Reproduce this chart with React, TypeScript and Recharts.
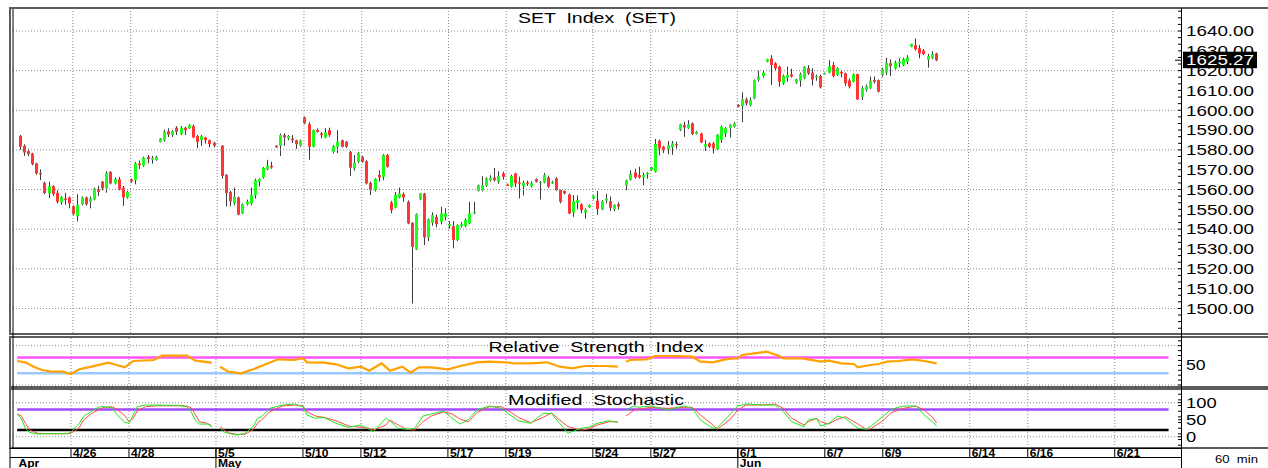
import React from "react";
import { Bar, ComposedChart, Line, ReferenceLine, XAxis, YAxis } from "recharts";

const FONT = '"Liberation Sans", Arial, sans-serif';
const SLOT_COUNT = 283; // 7 hourly bars per trading day
const SLOTS_PER_DAY = 7;

const DAY_LABELS = [
  "4/22", "4/23", "4/26", "4/27", "4/28", "4/29", "4/30", "5/5", "5/6", "5/7",
  "5/10", "5/11", "5/12", "5/13", "5/14", "5/17", "5/18", "5/19", "5/20", "5/21",
  "5/24", "5/25", "5/27", "5/28", "5/31", "6/1", "6/2", "6/4", "6/7", "6/8",
  "6/9", "6/10", "6/11", "6/14", "6/15", "6/16", "6/17", "6/18", "6/21", "6/22", "6/23",
];
const SHOWN_DATES = ["4/26", "4/28", "5/5", "5/10", "5/12", "5/17", "5/19", "5/24", "5/27", "6/1", "6/7", "6/9", "6/14", "6/16", "6/21"];
const MONTH_DAYS = ["4/22", "5/5", "6/1"];
const MONTH_NAMES = ["Apr", "May", "Jun"];

// [open, high, low, close] per hourly slot, null = no bar
const CANDLES: ([number, number, number, number] | null)[] = [
  null,
  [1587.1, 1587.5, 1580, 1581.6], [1582.1, 1582.8, 1577, 1578.7], [1579.4, 1580.6, 1576.8, 1577.9],
  [1578.2, 1578.5, 1572.2, 1572.8], [1573.2, 1573.5, 1567.5, 1568.1], [1568.3, 1570.2, 1564.8, 1567.9],
  [1563.4, 1564, 1557.6, 1558.3], [1558, 1564, 1555.7, 1561.7], [1561.7, 1562.2, 1556.8, 1557.7],
  [1558.3, 1559.6, 1552.9, 1553.8], [1553.5, 1556.8, 1552.3, 1556.3], [1555.5, 1558.3, 1552.3, 1554.8],
  [1556, 1556.5, 1550.5, 1553],
  [1551.6, 1552, 1547, 1547.6], [1546.6, 1557.6, 1543.9, 1552.1], [1552.6, 1556.5, 1552, 1556],
  [1556, 1556.5, 1551.8, 1552.6], [1553.8, 1556.5, 1550.5, 1555.5], [1555, 1561, 1554.5, 1560.6],
  [1560, 1562, 1556.8, 1558.8],
  [1564, 1564.3, 1559.6, 1560.6], [1560.6, 1569.2, 1558.4, 1568.4], [1568.9, 1569.3, 1562.6, 1563.1],
  [1563.1, 1566, 1562.6, 1565.3], [1565.1, 1566.4, 1559.6, 1560], [1560.9, 1561.8, 1551.8, 1556],
  [1556, 1559.3, 1555.4, 1558.8],
  [1565.1, 1565.5, 1563.5, 1564.1], [1564.7, 1573.9, 1562.6, 1573.2], [1573.2, 1574.6, 1570.4, 1572.3],
  [1572, 1576.6, 1571.5, 1576], [1576.5, 1577.4, 1573.2, 1575.4], [1575, 1577, 1573, 1575.9],
  [1574.9, 1577.1, 1574.5, 1576.5],
  [1584, 1586, 1583.8, 1585.7], [1584.9, 1590.1, 1584.1, 1589.2], [1589.5, 1590.9, 1586.5, 1587.8],
  [1587.5, 1590, 1586.5, 1589.5], [1591.2, 1592, 1587.5, 1589.2], [1588, 1592, 1587.5, 1591.2],
  [1591.2, 1591.7, 1587.5, 1590],
  [1590.9, 1593, 1590.6, 1592.5], [1592, 1592.8, 1585.9, 1586.3], [1587, 1587.5, 1580.8, 1584.1],
  [1585, 1587.5, 1582, 1587], [1586.3, 1586.6, 1583.2, 1584.9], [1584.9, 1585.2, 1581.3, 1582.9],
  [1583.6, 1584.1, 1581.3, 1582.1],
  null,
  [1582.1, 1582.4, 1565.5, 1566.9], [1567.3, 1567.8, 1551.5, 1558.3], [1558.8, 1559.3, 1551.5, 1554.1],
  [1553, 1561, 1552, 1556.3], [1556, 1556.5, 1547, 1547.4], [1547.9, 1553, 1547.6, 1552.6],
  [1552.6, 1554.9, 1552, 1553.8], [1553, 1561, 1552, 1557.2], [1557.2, 1565.5, 1555.5, 1564.7],
  [1564, 1565.6, 1561.5, 1565.3], [1566.1, 1571.4, 1565.5, 1570.9], [1570.3, 1575, 1569.7, 1572],
  [1572, 1574, 1570.5, 1571.2],
  [1582.1, 1582.3, 1581, 1581.3], [1582.1, 1588.2, 1577, 1587.5], [1587.5, 1588.4, 1582.1, 1586.3],
  [1585.8, 1587.5, 1584.9, 1587], [1585.7, 1587.5, 1583.5, 1584.9], [1584.9, 1585.2, 1580.5, 1582.9],
  [1582.1, 1585.2, 1581.6, 1584.9],
  [1596.4, 1596.9, 1593, 1593.4], [1593, 1594, 1575, 1581.6], [1581.6, 1590.3, 1581.3, 1590],
  [1590, 1590.9, 1588.8, 1589.1], [1588.3, 1589, 1585.9, 1587.5], [1586.3, 1590.9, 1585.9, 1588.8],
  [1590, 1591.2, 1586.6, 1587.5],
  [1579, 1582.4, 1578.3, 1581.9], [1581.6, 1590, 1578.4, 1584.1], [1584.9, 1585.2, 1581.2, 1581.6],
  [1584.1, 1584.5, 1581, 1581.6], [1579, 1579.5, 1566.9, 1571], [1570.7, 1577.4, 1569.5, 1573.5],
  [1574, 1579, 1573.3, 1578.5],
  [1576.5, 1577, 1573.5, 1574], [1574.3, 1574.8, 1562.6, 1563.1], [1563.4, 1564, 1557.2, 1559.7],
  [1559.7, 1565.7, 1559, 1565.3], [1567.3, 1569.7, 1564, 1566.1], [1566.4, 1577.9, 1564.7, 1577.4],
  [1577.4, 1577.9, 1571, 1571.5],
  [1553.5, 1554.3, 1548, 1549.6], [1550.9, 1558.8, 1550.5, 1557.2], [1556, 1561, 1555.5, 1558],
  [1557.7, 1558.5, 1553.8, 1556], [1553.8, 1554.5, 1542.5, 1542.9], [1543.2, 1543.5, 1502.5, 1531.1],
  [1529.8, 1548, 1529.5, 1547.6],
  [1555, 1558.3, 1554.6, 1558], [1558, 1558.3, 1532, 1535.8], [1535.8, 1545.5, 1534, 1545],
  [1543.2, 1548.5, 1541.7, 1547.1], [1546.2, 1547.5, 1541, 1542.5], [1543.7, 1551.3, 1542.4, 1547.9],
  [1546.2, 1550.5, 1544.4, 1547.9],
  [1541.5, 1544.1, 1540.3, 1542.5], [1541.5, 1544.1, 1530.4, 1534.5], [1534.5, 1542.5, 1534, 1542],
  [1541.6, 1543.7, 1540.9, 1542.5], [1541.6, 1545.5, 1540.9, 1544.7], [1542.9, 1553.8, 1542.5, 1548],
  [1547.9, 1553.8, 1547.5, 1548.7],
  [1559.3, 1562.5, 1559, 1562.2], [1559.6, 1566.7, 1559, 1562.2], [1561.9, 1566.2, 1561.4, 1565.6],
  [1564.7, 1567.2, 1564, 1566], [1566, 1570.9, 1564, 1564.7], [1563.9, 1569.2, 1563, 1566.8],
  [1568.1, 1569, 1565, 1566.4],
  [1562.5, 1563, 1562, 1562.2], [1561.4, 1567.5, 1561, 1566.8], [1568.1, 1568.4, 1561.2, 1563.1],
  [1563.6, 1566.5, 1555.5, 1563.1], [1561.7, 1564.5, 1557, 1563.4], [1563.6, 1564.5, 1561.8, 1562.9],
  [1561.7, 1564.1, 1561, 1563.1],
  [1565.3, 1565.7, 1563.5, 1563.9], [1563.2, 1564.3, 1555, 1563.9], [1563.6, 1568.4, 1563.1, 1567.3],
  [1566.1, 1567, 1560.8, 1561.4], [1563.1, 1564.5, 1562.8, 1563.9], [1565.6, 1566.2, 1559.3, 1559.7],
  [1559.7, 1560, 1553, 1553.8],
  [1559.3, 1559.5, 1557.6, 1558], [1557.5, 1558, 1547.6, 1547.9], [1548.4, 1557.2, 1546.2, 1554.1],
  [1553.3, 1557, 1550, 1554.7], [1552.6, 1553, 1548, 1549.6], [1548.4, 1550.5, 1545.3, 1549.6],
  [1551.1, 1552.5, 1550.7, 1552.1],
  [1555.5, 1557.2, 1555, 1556.9], [1554.4, 1559.3, 1547.2, 1550.2], [1550, 1554.6, 1549.6, 1554.1],
  [1554.4, 1557.9, 1553, 1555.5], [1554.1, 1556.5, 1549.2, 1550.8], [1550.1, 1552.6, 1549.2, 1552.3],
  [1552.6, 1553.5, 1550, 1551.5],
  null,
  [1562.2, 1565, 1559.7, 1564.7], [1564.8, 1569.7, 1564.5, 1568.1], [1568.6, 1570.5, 1565.5, 1566.1],
  [1567.3, 1571.5, 1565.5, 1566.1], [1566.1, 1568.5, 1562.2, 1567.3], [1567.8, 1568.8, 1565.5, 1568.4],
  [1569.8, 1571.6, 1569.4, 1571.2], [1569, 1585.5, 1568.6, 1583], [1584.6, 1585.2, 1577.2, 1580.8],
  [1581.6, 1582, 1578.4, 1579.9], [1580.4, 1584.5, 1577.8, 1582.4], [1581.3, 1584.5, 1577.5, 1583.3],
  [1583, 1584.1, 1580.7, 1582.4],
  [1590, 1593.2, 1589.5, 1592.9], [1592.5, 1594.2, 1586.6, 1591.4], [1590.9, 1595, 1590.5, 1593],
  [1593.4, 1593.8, 1587.5, 1588], [1588, 1589.5, 1587.7, 1589.1], [1588.3, 1588.7, 1583.4, 1583.8],
  [1581.6, 1585, 1579.5, 1582.9],
  [1583.3, 1583.8, 1581, 1581.6], [1583.3, 1584.1, 1578.2, 1580.8], [1580.4, 1588, 1580, 1587.5],
  [1585, 1592.2, 1583.6, 1591.7], [1588.3, 1591.5, 1586.5, 1590.9], [1590.9, 1593, 1586.3, 1592.5],
  [1591.7, 1594, 1591.2, 1593.4],
  [1602.6, 1603, 1601.5, 1601.8], [1602.1, 1609, 1594, 1605.5], [1605.5, 1606.5, 1602.5, 1603.5],
  [1602.6, 1606.5, 1602, 1605.2], [1606, 1615.6, 1605.6, 1615.3], [1615.3, 1620, 1614.4, 1616.9],
  [1617.3, 1620, 1616.5, 1619],
  [1624.5, 1626, 1624.2, 1625.7], [1626.2, 1627.8, 1612.8, 1622.8], [1623.7, 1624.3, 1620.2, 1621.2],
  [1622, 1622.5, 1611.9, 1614.4], [1613.6, 1618, 1612.8, 1617.3], [1616.6, 1622, 1614.4, 1617.8],
  [1618.1, 1621, 1616.5, 1617.1],
  [1613.9, 1616, 1613.3, 1615.6], [1614.9, 1619, 1611.9, 1618.3], [1616.1, 1622.3, 1615.6, 1622],
  [1621.2, 1622.8, 1617.8, 1618.6], [1619, 1621.2, 1612.5, 1615.6], [1616.6, 1618, 1614.9, 1617.3],
  [1617.3, 1618, 1611, 1611.6],
  [1618.3, 1619, 1618, 1618.7], [1619, 1625.3, 1618.6, 1622.3], [1622.8, 1624.4, 1616.6, 1617.3],
  [1617.8, 1621.7, 1617.3, 1621.2], [1619.4, 1620.2, 1616.6, 1618.6], [1618.6, 1619, 1612.2, 1613.6],
  [1615, 1616, 1611, 1611.9],
  [1614.4, 1618.6, 1614, 1618.1], [1618.3, 1618.5, 1605.2, 1605.5], [1606.8, 1612.3, 1605.2, 1611.1],
  [1610.2, 1613, 1609.4, 1612.2], [1611.1, 1617, 1610.7, 1614.9], [1615.2, 1617, 1613.6, 1614.4],
  [1615.2, 1615.5, 1609, 1609.4],
  [1617.8, 1621.5, 1616.9, 1620.6], [1619, 1626.5, 1617.8, 1624], [1623.7, 1625.7, 1617.3, 1622.3],
  [1621.2, 1625, 1620.6, 1624], [1623.7, 1626.2, 1621.7, 1624.5], [1622.8, 1626.5, 1622.3, 1625.7],
  [1624.5, 1627.8, 1623.3, 1626.7],
  [1632.1, 1633.6, 1631.8, 1633.4], [1632.9, 1636.2, 1630.1, 1630.8], [1631.3, 1632.9, 1626.2, 1628.7],
  [1630.1, 1630.8, 1627.9, 1628.4], [1625.4, 1628.5, 1621.5, 1627.4], [1626.2, 1629.8, 1625.7, 1628.4],
  [1628.7, 1629, 1624.8, 1625.27],
];
const LAST_PRICE = 1625.27;

// [slot, value]
const RSI_POINTS: [number, number][] = [
  [1, 61], [3, 57.7], [5, 46.6], [7, 38.2], [9, 34.9], [12, 34], [14, 28], [16, 40], [19, 46.6],
  [23, 56.7], [25, 50.9], [27, 45], [29, 61], [34, 63.6], [36, 74.6], [42, 74.6], [44, 61.8], [48, 56.7],
  [50, 46.6], [52, 33.8], [55, 29.8], [58, 40], [61, 52.7], [64, 65.3], [68, 63.6], [70, 68], [71, 57.7],
  [75, 56.7], [78, 52.7], [81, 42.5], [84, 46.6], [86, 36.4], [87, 42.5], [89, 55.2], [91, 36.4],
  [94, 46.6], [96, 31.3], [98, 45], [101, 45], [105, 40], [108, 48.4], [112, 57.7], [115, 59.3],
  [119, 57.7], [121, 55.2], [125, 55.2], [129, 57.7], [132, 46.6], [135, 42.5], [138, 48.4], [143, 48.4],
  [146, 46.6],
  [148, 59.3], [149, 63.6], [153, 65.3], [155, 73.8], [161, 73.8], [164, 72], [166, 59.3], [169, 57.7],
  [172, 65.3], [175, 68], [176, 76.3], [179, 80.6], [182, 84.7], [185, 73.8], [186, 68], [190, 68],
  [192, 65.3], [195, 59.3], [197, 61.8], [200, 55.2], [203, 53.4], [204, 45], [207, 50.9], [209, 53.4],
  [211, 59.3], [214, 61], [217, 65.3], [220, 61], [223, 55.2],
];
const STOCH_K: [number, number][] = [
  [1, 65.9], [2, 54], [3, 24.7], [4, 12.9], [6, 7.9], [8, 8.8], [11, 8.8], [13, 8.8], [14, 13], [16, 39.4],
  [17, 58.8], [19, 75.6], [21, 88.2], [22, 88.2], [24, 85.3], [25, 65.9], [27, 42.4], [28, 39.4], [29, 63.8],
  [30, 88.2], [32, 93.2], [35, 93], [40, 92], [42, 88.2], [43, 73.5], [44, 49], [45, 37.4], [47, 37], [48, 29.4],
  [50, 24.7], [51, 13], [52, 10], [54, 5], [56, 10], [58, 29.4], [59, 54], [60, 58.8], [62, 83.5], [65, 93.2],
  [68, 96.2], [70, 88.2], [71, 63.8], [73, 54], [75, 57], [78, 39.4], [81, 27.6], [84, 34.4], [86, 21.8],
  [87, 14.7], [90, 54], [91, 47], [93, 24.7], [95, 21.8], [97, 24.7], [99, 60.9], [101, 66.8], [104, 75.6],
  [106, 54], [108, 37.4], [110, 51.2], [112, 78.5], [115, 90.3], [118, 83.5], [120, 63.8], [122, 47],
  [125, 39.4], [128, 68.8], [130, 68], [132, 39.4], [134, 10], [137, 24.7], [139, 27.6], [141, 39.4],
  [144, 47], [146, 42],
  [148, 78.5], [150, 90.3], [151, 86.5], [154, 90.3], [158, 78.5], [162, 90.3], [164, 83.5], [166, 49],
  [169, 24.7], [170, 26.5], [173, 63.8], [175, 90.3], [177, 96.2], [181, 93.2], [184, 93.2], [186, 73.5],
  [188, 44.1], [191, 29.4], [192, 49], [194, 54], [195, 31.5], [197, 39.4], [199, 60.9], [201, 54],
  [204, 24.7], [206, 21.8], [207, 29.4], [210, 58.8], [212, 80.6], [215, 90.3], [218, 90.3], [220, 63.8],
  [222, 44.1], [223, 31.5],
];
const STOCH_D: [number, number][] = [
  [1, 65.9], [2, 61.8], [3, 39.4], [4, 19.7], [6, 10], [8, 8.8], [13, 8.8], [14, 10], [16, 26.5], [17, 49],
  [19, 68.8], [21, 81.5], [22, 86.5], [24, 88.2], [25, 81.5], [27, 61.8], [28, 44.1], [29, 54], [30, 75.6],
  [32, 88.2], [35, 91], [40, 91], [42, 90], [43, 85.3], [44, 65.9], [45, 44.1], [47, 39.4], [48, 31.5],
  [50, 29.4], [51, 19.7], [52, 11.8], [54, 7], [56, 7], [58, 21], [59, 39.4], [60, 49], [62, 73.5], [65, 90.3],
  [68, 93.2], [70, 90.3], [71, 73.5], [73, 60.9], [75, 57], [78, 47], [81, 31.5], [84, 27.6], [86, 24.7],
  [87, 19.7], [90, 34.4], [91, 49], [93, 34.4], [95, 21.8], [97, 19.7], [99, 44.1], [101, 60.9], [104, 73.5],
  [106, 66.8], [108, 51.2], [110, 44.1], [112, 70.6], [115, 88.2], [118, 88.2], [120, 73.5], [122, 57],
  [125, 41.2], [128, 57], [130, 70], [132, 49], [134, 29.4], [137, 19.7], [139, 22.6], [141, 34.4],
  [144, 44.1], [146, 44],
  [148, 60.9], [150, 78.5], [151, 80.6], [154, 86.5], [158, 83.5], [162, 86.5], [164, 86.5], [166, 63.8],
  [169, 34.4], [170, 21.8], [173, 49], [175, 78.5], [177, 93.2], [181, 93.2], [184, 96.2], [186, 83.5],
  [188, 54], [191, 34.4], [192, 44.1], [194, 54], [195, 44.1], [197, 37.4], [199, 51.2], [201, 58.8],
  [204, 37.4], [206, 21.8], [207, 22.6], [210, 47], [212, 70.6], [215, 83.5], [218, 90.3], [220, 78.5],
  [222, 57], [223, 41.2],
];
const BREAK_SLOTS = [49, 147]; // slots with no bar, the indicator lines break there

const PRICE_DOMAIN: [number, number] = [1487.6, 1650.6];
const PRICE_LABELS = [1500, 1510, 1520, 1530, 1540, 1550, 1560, 1570, 1580, 1590, 1600, 1610, 1620, 1630, 1640];
const PRICE_GRID = [1500, 1520, 1540, 1560, 1580, 1600, 1620, 1640];
const RSI_DOMAIN: [number, number] = [-5.1, 119.6];
const RSI_LEVELS = [70, 30];
const RSI_LABELS = [50];
const RSI_GRID = [0, 100];
const STOCH_DOMAIN: [number, number] = [-33.2, 137.4];
const STOCH_LEVELS = [80, 20];
const STOCH_LABELS = [0, 50, 100];
const STOCH_GRID = [0, 100];
const LEVEL_SPAN: [number, number] = [1, 279];

const blockOf = (s: number) => BREAK_SLOTS.filter((b) => s > b).length;
const daySlot = (d: string) => DAY_LABELS.indexOf(d) * SLOTS_PER_DAY;

const rows: Record<string, number>[] = Array.from({ length: SLOT_COUNT }, (_, s) => {
  const r: Record<string, number> = { slot: s };
  const c = CANDLES[s];
  if (c) {
    r.o = c[0];
    r.h = c[1];
    r.l = c[2];
    r.c = c[3];
  }
  return r;
});
const put = (pts: [number, number][], key: string) =>
  pts.forEach(([s, v]) => {
    rows[s][key + blockOf(s)] = v;
  });
put(RSI_POINTS, "rsi");
put(STOCH_K, "k");
put(STOCH_D, "d");

const steps = (from: number, to: number, step: number) => {
  const out: number[] = [];
  for (let v = from; v <= to + 1e-9; v += step) out.push(Math.round(v * 1000) / 1000);
  return out;
};
const merge = (...lists: number[][]) => Array.from(new Set(lists.flat())).sort((a, b) => a - b);
// last price goes last so its tag is painted over the neighbouring labels
const PRICE_TICKS = [...merge(steps(1490, 1650, 10 / 3), PRICE_LABELS), LAST_PRICE];
const RSI_TICKS = merge(steps(0, 112.5, 12.5), RSI_LABELS);
const STOCH_TICKS = merge(steps(-25, 125, 50 / 3), STOCH_LABELS);

const VGRID = SHOWN_DATES.map(daySlot);
const DATE_TICKS = merge(VGRID, MONTH_DAYS.map(daySlot));

const MARGIN = { top: 0, right: 0, bottom: 0, left: 13 };
const AXIS_W = 87;
const DOT = "1 2";
const GRID = "#8a8a8a";

function Candle(props: any) {
  const { x, y, width, height, payload } = props;
  if (!payload || payload.o == null || !(height > 0)) return null;
  const { o, h, l, c } = payload;
  const k = height / (h - l);
  const py = (v: number) => y + (h - v) * k;
  const cx = Math.round(x + width / 2) + 0.5;
  const top = py(Math.max(o, c));
  const bot = py(Math.min(o, c));
  return (
    <g>
      <line x1={cx} x2={cx} y1={y} y2={y + height} stroke="#3c3c3c" />
      <rect x={cx - 1.5} y={top} width={3} height={Math.max(bot - top, 1.3)} fill={c >= o ? "#1cff1c" : "#ff3434"} />
    </g>
  );
}

const leftTick = (props: any) => {
  const { x, y } = props;
  return <line x1={x} x2={x + 3} y1={y} y2={y} stroke="#000" />;
};

// right-hand axis: inward minor tick for every value, text only for labelled values
const rightTick = (labels: number[], fmt: (v: number) => string, dy: number, charW: number) => (props: any) => {
  const { x, y, payload } = props;
  const v = payload.value;
  const s = fmt(v);
  const isLast = v === LAST_PRICE;
  const labelled = labels.includes(v) || isLast;
  return (
    <g fontFamily={FONT}>
      <line x1={x - (isLast ? 6 : 3)} x2={x} y1={y} y2={y} stroke="#000" />
      {isLast && <rect x={x + 2} y={y - 8.5} width={74} height={16.5} fill="#000" />}
      {labelled && (
        <text x={x + 5} y={y + dy} fontSize={15} fill={isLast ? "#fff" : "#000"} textLength={s.length * charW} lengthAdjust="spacingAndGlyphs">
          {s}
        </text>
      )}
    </g>
  );
};
const priceTick = rightTick(PRICE_LABELS, (v) => v.toFixed(2), 5.3, 68 / 7);
const rsiTick = rightTick(RSI_LABELS, (v) => String(v), 4.8, 9.8);
const stochTick = rightTick(STOCH_LABELS, (v) => String(v), 5.5, 10.2);

function DateTick(props: any) {
  const { x, y, payload } = props;
  const day = DAY_LABELS[Math.floor(payload.value / SLOTS_PER_DAY)];
  const shown = SHOWN_DATES.includes(day);
  const mi = MONTH_DAYS.indexOf(day);
  return (
    <g fontFamily={FONT} fontWeight="bold" fontSize={10.5} fill="#000">
      {shown && <line x1={x} x2={x} y1={y} y2={y + 10} stroke="#000" />}
      {shown && <text transform={`translate(${x + 2},${y + 9}) scale(1.15,1)`}>{day}</text>}
      {mi > 0 && <line x1={x} x2={x} y1={y} y2={y + 20} stroke="#000" />}
      {mi >= 0 && (
        <text transform={`translate(${x + (mi === 0 ? 5.5 : 2)},${y + 19}) scale(1.15,1)`}>{MONTH_NAMES[mi]}</text>
      )}
    </g>
  );
}

const vGrid = (yId: string) =>
  VGRID.map((s) => <ReferenceLine key={"v" + s} x={s} yAxisId={yId} stroke={GRID} strokeDasharray={DOT} />);
const hGrid = (vals: number[], yId: string) =>
  vals.map((v) => <ReferenceLine key={"h" + v} y={v} yAxisId={yId} stroke={GRID} strokeDasharray={DOT} />);
const level = (v: number, color: string, yId: string) => (
  <ReferenceLine
    yAxisId={yId}
    segment={[{ x: LEVEL_SPAN[0], y: v }, { x: LEVEL_SPAN[1], y: v }]}
    stroke={color}
    strokeWidth={2.5}
  />
);

const segLines = (key: string, color: string, width: number, yId: string) =>
  [0, 1, 2].map((b) => (
    <Line
      key={key + b}
      yAxisId={yId}
      dataKey={key + b}
      stroke={color}
      strokeWidth={width}
      dot={false}
      connectNulls
      isAnimationActive={false}
    />
  ));

const axes = (id: string, domain: [number, number], ticks: number[], tick: any) => [
  <YAxis key="l" yAxisId={id + "l"} orientation="left" width={0} domain={domain} allowDataOverflow type="number"
    ticks={ticks} interval={0} tickSize={0} tickMargin={0} axisLine={false} tick={leftTick} />,
  <YAxis key="r" yAxisId={id} orientation="right" width={AXIS_W} domain={domain} allowDataOverflow type="number"
    ticks={ticks} interval={0} tickSize={0} tickMargin={0} axisLine={false} tick={tick} />,
];

export default function App() {
  return (
    <div style={{ position: "absolute", left: 0, top: 0, width: 1268, height: 468, background: "#fff", fontFamily: FONT }}>
      {/* price panel */}
      <div style={{ position: "absolute", left: 0, top: 0 }}>
        <ComposedChart width={1268} height={335} data={rows} margin={{ ...MARGIN, top: 10, bottom: 2 }}>
          <XAxis dataKey="slot" hide />
          {axes("p", PRICE_DOMAIN, PRICE_TICKS, priceTick)}
          {hGrid(PRICE_GRID, "p")}
          {vGrid("p")}
          <Bar yAxisId="p" dataKey={(d: any) => (d.o == null ? null : [d.l, d.h])} barSize={3} shape={<Candle />} isAnimationActive={false} />
        </ComposedChart>
      </div>

      {/* RSI panel */}
      <div style={{ position: "absolute", left: 0, top: 336 }}>
        <ComposedChart width={1268} height={52} data={rows} margin={{ ...MARGIN, top: 2, bottom: 1 }}>
          <XAxis dataKey="slot" hide />
          {axes("r", RSI_DOMAIN, RSI_TICKS, rsiTick)}
          {hGrid(RSI_GRID, "r")}
          {vGrid("r")}
          {level(RSI_LEVELS[0], "#ff55ff", "r")}
          {level(RSI_LEVELS[1], "#99c9ff", "r")}
          {segLines("rsi", "#ffa200", 2.2, "r")}
        </ComposedChart>
      </div>

      {/* stochastic panel with date axis */}
      <div style={{ position: "absolute", left: 0, top: 388 }}>
        <ComposedChart width={1268} height={80} data={rows} margin={{ ...MARGIN, top: 2, bottom: 0 }}>
          <XAxis dataKey="slot" height={20} ticks={DATE_TICKS} interval={0} tickSize={0} tickMargin={0} axisLine={false} tick={<DateTick />} />
          {axes("s", STOCH_DOMAIN, STOCH_TICKS, stochTick)}
          {hGrid(STOCH_GRID, "s")}
          {vGrid("s")}
          {level(STOCH_LEVELS[0], "#a249ff", "s")}
          {level(STOCH_LEVELS[1], "#000", "s")}
          {segLines("d", "#ff4a4a", 1, "s")}
          {segLines("k", "#1ee81e", 1, "s")}
        </ComposedChart>
      </div>

      {/* frame, titles */}
      <svg width={1268} height={468} style={{ position: "absolute", left: 0, top: 0, pointerEvents: "none" }} fontFamily={FONT}>
        <g fill="none">
          <rect x={10} y={8} width={1270} height={326} stroke="#5c5c5c" strokeWidth={2} />
          <rect x={10} y={337} width={1270} height={50} stroke="#5c5c5c" strokeWidth={2} />
          <rect x={10} y={389} width={1270} height={59} stroke="#5c5c5c" strokeWidth={2} />
          <line x1={13} x2={13} y1={9} y2={448} stroke="#000" />
          <line x1={10} x2={10} y1={448} y2={468} stroke="#000" />
          <line x1={10} x2={1181} y1={448.5} y2={448.5} stroke="#000" />
          <line x1={10} x2={1181} y1={457.5} y2={457.5} stroke="#000" />
          <line x1={1181.5} x2={1181.5} y1={8} y2={468} stroke="#000" />
        </g>
        <text x={518} y={22.7} fontSize={15.5} textLength={158} lengthAdjust="spacingAndGlyphs" style={{ whiteSpace: "pre" }}>
          SET  Index  (SET)
        </text>
        <text x={488.5} y={351.7} fontSize={14.5} textLength={215} lengthAdjust="spacingAndGlyphs" style={{ whiteSpace: "pre" }}>
          Relative  Strength  Index
        </text>
        <text x={508} y={405} fontSize={14.5} textLength={176} lengthAdjust="spacingAndGlyphs" style={{ whiteSpace: "pre" }}>
          Modified  Stochastic
        </text>
        <text x={1215} y={462.5} fontSize={11} textLength={43} lengthAdjust="spacingAndGlyphs" style={{ whiteSpace: "pre" }}>
          60  min
        </text>
      </svg>
    </div>
  );
}
